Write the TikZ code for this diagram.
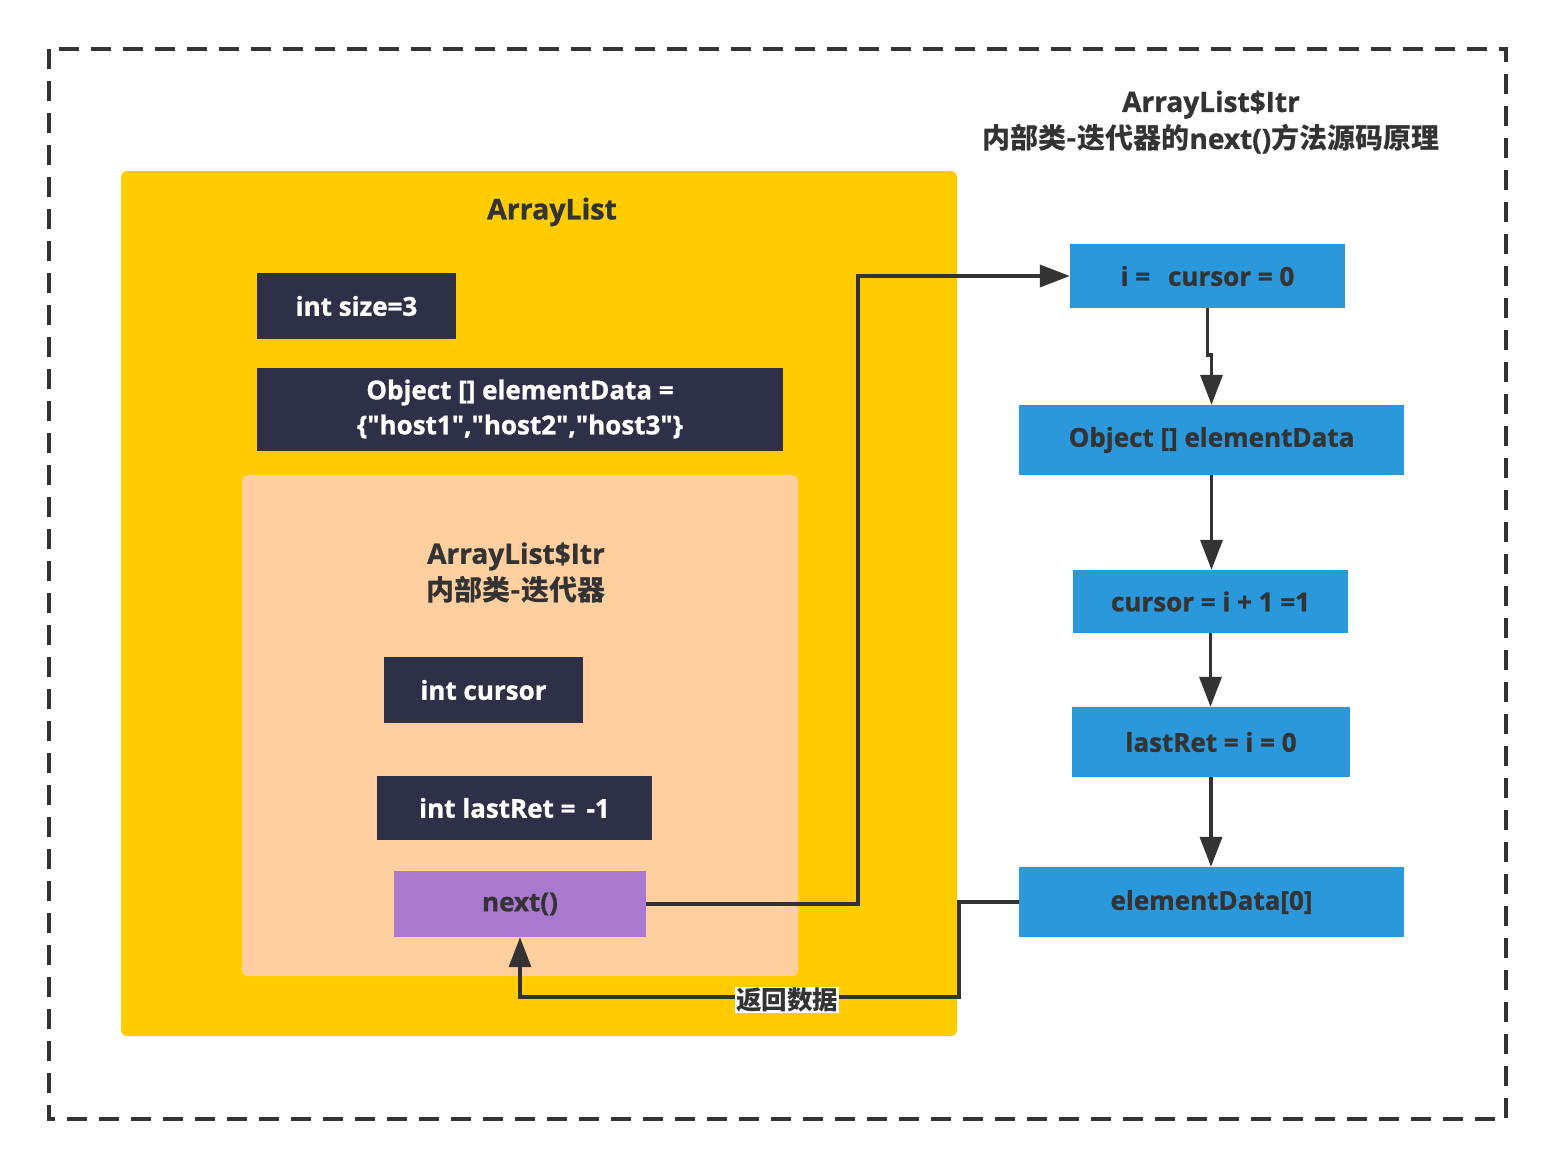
\documentclass[tikz,border=0pt]{standalone}
\usepackage{fontspec}
\setmainfont{Open Sans}[Ligatures=TeXOff, BoldFeatures={FakeBold=1}]
\newfontfamily\cjk{Noto Sans CJK SC}
\usetikzlibrary{arrows.meta}
\definecolor{navy}{HTML}{2D3047}
\definecolor{ybg}{HTML}{FFCC00}
\definecolor{peach}{HTML}{FFCFA0}
\definecolor{bluebox}{HTML}{2A98DA}
\definecolor{purp}{HTML}{A978CF}
\definecolor{ink}{HTML}{333333}
\begin{document}
\begin{tikzpicture}[x=1pt,y=-1pt,
  base/.style={inner sep=0pt, font=\fontsize{26}{30}\selectfont\bfseries, align=center},
  darkbox/.style={base, fill=navy, text=white},
  bluenode/.style={base, fill=bluebox, text=ink},
  purpnode/.style={base, fill=purp, text=ink},
  conn/.style={draw=ink, line width=3.5pt, -{Triangle[length=30pt,width=22pt]}},
  plain/.style={draw=ink, line width=3.5pt}]
\useasboundingbox (0,0) rectangle (1558,1170);
\fill[white] (0,0) rectangle (1558,1170);
% outer dashed frame
\draw[ink, line width=4pt, dash pattern=on 20pt off 12pt] (49,49) rectangle (1506,1119);
\node[base, text=ink, font=\fontsize{28}{37}\selectfont\bfseries] (title) at (1211,122) {ArrayList\$Itr\\{\cjk\bfseries 内部类-迭代器的}next(){\cjk\bfseries 方法源码原理}};
% yellow container
\fill[ybg, rounded corners=6pt] (121,171) rectangle (957,1036);
\node[base, text=ink, font=\fontsize{28.5}{32}\selectfont\bfseries] (al) at (552,212) {ArrayList};
\node[darkbox, minimum width=199pt, minimum height=66pt] (size) at (356.5,306) {int size=3};
\node[darkbox, minimum width=526pt, minimum height=83pt, font=\fontsize{26}{35}\selectfont\bfseries] (odata) at (520,409) {Object [] elementData =\\\{"host1","host2","host3"\}};
% peach container
\fill[peach, rounded corners=6pt] (242,475) rectangle (798,976);
\node[base, text=ink, font=\fontsize{28}{37}\selectfont\bfseries] (itr) at (516,573) {ArrayList\$Itr\\{\cjk\bfseries 内部类-迭代器}};
\node[darkbox, minimum width=199pt, minimum height=66pt] (cursor) at (483.5,690) {int cursor};
\node[darkbox, minimum width=275pt, minimum height=64pt] (lastret) at (514.5,808) {int lastRet = \,-1};
\node[purpnode, minimum width=252pt, minimum height=66pt] (next) at (520,904) {next()};
% blue flow
\node[bluenode, minimum width=275pt, minimum height=64pt] (b1) at (1207.5,276) {i = \, cursor = 0};
\node[bluenode, minimum width=385pt, minimum height=70pt] (b2) at (1211.5,440) {Object [] elementData};
\node[bluenode, minimum width=275pt, minimum height=63pt] (b3) at (1210.5,601.5) {cursor = i + 1 =1};
\node[bluenode, minimum width=278pt, minimum height=70pt] (b4) at (1211,742) {lastRet = i = 0};
\node[bluenode, minimum width=385pt, minimum height=70pt] (b5) at (1211.5,902) {elementData[0]};
% connectors
\draw[conn] (next.east) -- ++(212,0) |- (b1.west);
\draw[conn] (b1.south) -- ++(0,47) -| (b2.north);
\draw[conn] (b2.south) -- (b2.south |- b3.north);
\draw[conn] (b3.south) -- (b3.south |- b4.north);
\draw[conn] (b4.south) -- (b4.south |- b5.north);
\draw[conn] (b5.west) -| ++(-60,95) -| (next.south);
\node[base, fill=white, text=ink, font=\cjk\fontsize{25.5}{27}\selectfont\bfseries, inner sep=1pt] (ret) at (787,1000) {返回数据};
\end{tikzpicture}
\end{document}
